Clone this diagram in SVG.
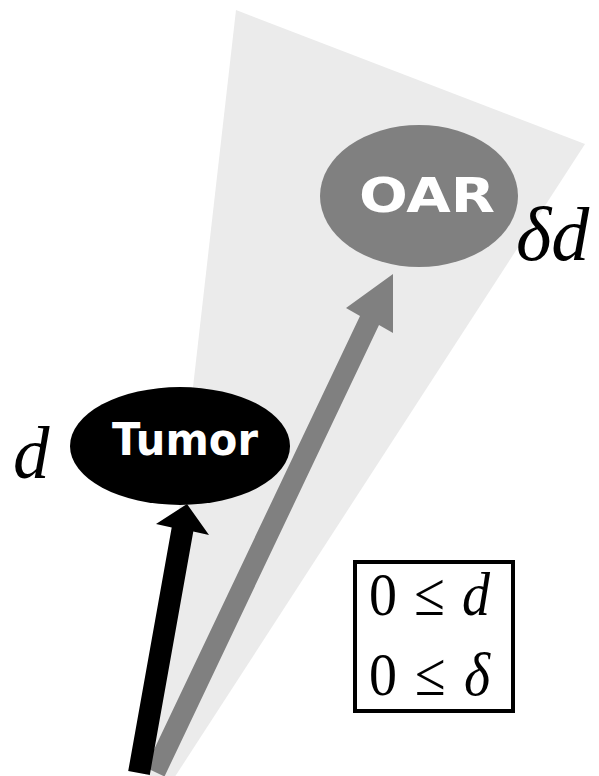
<svg xmlns="http://www.w3.org/2000/svg" width="599" height="776" viewBox="0 0 599 776">
<style>
.lbl{font-family:"DejaVu Sans","Liberation Sans",Arial,sans-serif;font-weight:bold;fill:#fff;text-anchor:middle}
.math{font-family:"Liberation Serif","Times New Roman",serif;fill:#000}
.it{font-style:italic}
</style>
<rect width="599" height="776" fill="#fff"/>
<polygon id="beam" points="236,10 585,144 143,826" fill="#ebebeb"/>
<g id="connectors">
<polygon id="oar-arrow" fill="#808080" points="145.5,767.5 164.5,776.5 379,325 393,333 393,274 346,308 360,316"/>
<polygon id="tumor-arrow" fill="#000" points="128.2,771.1 149.8,774.9 193.3,531.4 209,535 187,504 156,524 171.7,527.6"/>
</g>
<g id="tumor">
<ellipse cx="180" cy="446" rx="110" ry="59" fill="#000"/>
<text class="lbl" x="185" y="455" font-size="45" textLength="146" lengthAdjust="spacingAndGlyphs">Tumor</text>
</g>
<g id="oar">
<ellipse cx="419" cy="196" rx="99" ry="71" fill="#808080"/>
<text class="lbl" x="427" y="212" font-size="48" textLength="136" lengthAdjust="spacingAndGlyphs">OAR</text>
</g>
<text class="math it" x="13" y="478" font-size="73">d</text>
<text class="math it" x="516" y="260" font-size="76">δd</text>
<g id="constraints">
<rect x="355" y="562" width="158" height="149" fill="#fff" stroke="#000" stroke-width="4"/>
<text class="math" x="369" y="615" font-size="56" textLength="121" transform="translate(0,615) scale(1,1.1) translate(0,-615)">0 ≤ <tspan class="it">d</tspan></text>
<text class="math" x="369" y="695" font-size="56" textLength="121" transform="translate(0,695) scale(1,1.1) translate(0,-695)">0 ≤ <tspan class="it">δ</tspan></text>
</g>
</svg>
